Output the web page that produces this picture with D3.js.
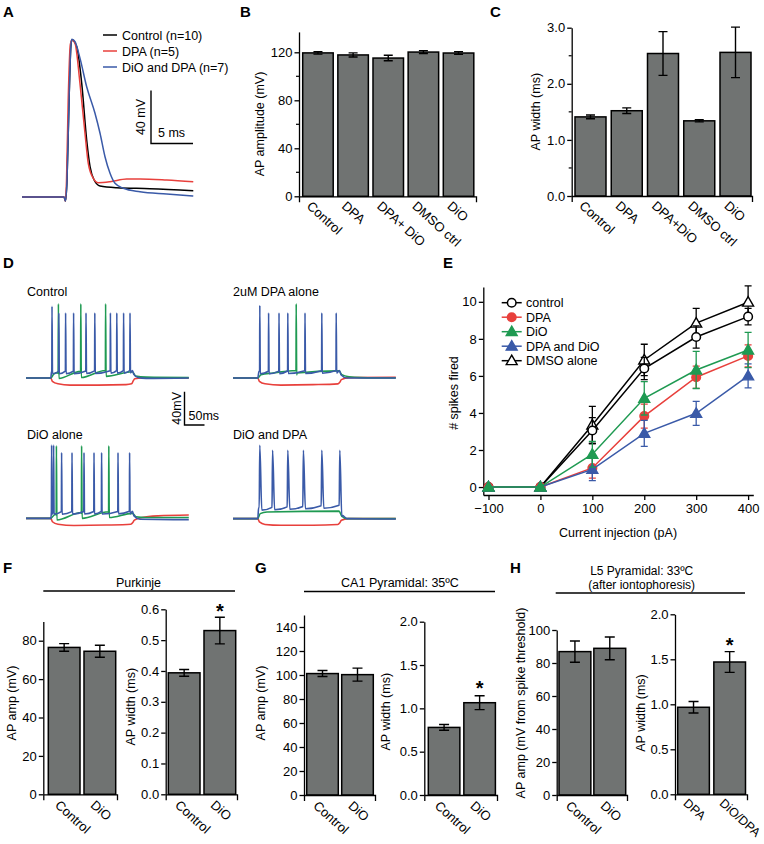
<!DOCTYPE html>
<html><head><meta charset="utf-8">
<script src="https://cdn.jsdelivr.net/npm/d3@7"></script>
<style>
body{margin:0;background:#fff}
svg{font-family:'Liberation Sans',Arial,sans-serif}
.axis path,.axis line{stroke:#000;stroke-width:1.3}
.axis text{font-size:13px;fill:#000;font-family:'Liberation Sans',Arial,sans-serif}
</style></head><body>
<svg id="fig" width="764" height="844"></svg>
<script>
// ---------------- DATA ----------------
// Panel A: averaged AP traces [ms, mV]
const aLegend = ["Control (n=10)", "DPA (n=5)", "DiO and DPA (n=7)"];
const aControl = [[0,-70],[5.0,-70],[5.18,-73],[5.36,-57],[5.6,3],[5.83,45],[5.95,48.5],[6.51,43.4],[7.11,15.8],[7.7,-27],[8.1,-47],[8.57,-57],[9.29,-61.7],[11.27,-63],[15.24,-63.7],[20.39,-65.2]];
const aDPA = [[0,-70],[5.0,-70],[5.18,-73],[5.3,-57],[5.5,3],[5.75,45],[5.95,48.5],[6.31,46],[6.9,15.8],[7.5,-22],[7.89,-44.6],[8.49,-55.9],[9.08,-59.2],[10.48,-58.5],[12.46,-56.4],[14.05,-56.4],[17.23,-57.2],[20.39,-58.5]];
const aDiODPA = [[0,-70],[5.0,-70],[5.18,-73],[5.36,-57],[5.6,3],[5.83,45],[5.95,49],[6.31,47.2],[6.9,34.8],[7.7,13.2],[8.69,-6.8],[9.29,-21.9],[9.88,-39.6],[10.48,-52.1],[11.07,-59.7],[12.06,-63.4],[14.05,-66],[17.23,-67.7],[20.39,-69.2]];

// Panel B / C
const bCats = ["Control","DPA","DPA+ DiO","DMSO ctrl","DiO"];
const bAmp = [119.5, 117.8, 115.2, 120.2, 119.4];
const bAmpErr = [1.0, 1.7, 2.3, 1.2, 1.1];
const cCats = ["Control","DPA","DPA+DiO","DMSO ctrl","DiO"];
const cWidth = [1.41, 1.52, 2.54, 1.34, 2.56];
const cWidthErr = [0.033, 0.05, 0.39, 0.018, 0.45];

// Panel D: subthreshold envelopes [ms, mV] and spikes [ms, peak mV]
const dTitles = ["Control","2uM DPA alone","DiO alone","DiO and DPA"];
const dCtrlBlueEnv = [[0,-70],[62,-70],[64,-62],[266,-61],[270,-66],[280,-69.5],[300,-70.5],[407,-70]];
const dCtrlBlueSpk = [[65,16],[82,8],[99,8],[119,8],[150,8],[172,8],[211,8],[227,8],[244,8],[260,8]];
const dCtrlGreenEnv = [[0,-70],[62,-70],[70,-65],[80,-63.5],[82,-67.5],[136,-62],[138,-66.5],[198,-61],[200,-65],[266,-62.5],[274,-67.5],[300,-69],[407,-69.5]];
const dCtrlGreenSpk = [[81,19],[137,19],[199,19]];
const dCtrlRedEnv = [[0,-70],[62,-70],[66,-74],[80,-77],[110,-78.5],[180,-78.5],[250,-78],[264,-77],[268,-73.5],[272,-71],[290,-70],[407,-70]];

const dDpaBlueEnv = [[0,-70],[62,-70],[65,-62],[266,-61],[270,-66],[285,-70],[407,-70]];
const dDpaBlueSpk = [[67,17],[89,8],[115,8],[137,8],[180,8],[222,8],[258,8]];
const dDpaGreenEnv = [[0,-70],[62,-70],[70,-66],[100,-64],[157,-61],[160,-64],[265,-61.5],[272,-66],[290,-68.5],[320,-69.5],[407,-70]];
const dDpaGreenSpk = [[158,19]];
const dDpaRedEnv = [[0,-70],[62,-70],[66,-74],[80,-77],[120,-78.5],[200,-78],[262,-77],[267,-75],[271,-72],[290,-69.5],[407,-69.3]];

const dDioBlueEnv = [[0,-70],[62,-70],[63.5,-62],[266,-61.5],[270,-67],[285,-71],[407,-71.5]];
const dDioBlueSpk = [[64,18],[69,18],[89,9],[115,9],[145,9],[170,9],[189,9],[230,9],[259,9]];
const dDioGreenEnv = [[0,-70],[62,-70],[70,-66],[75,-65],[77,-69],[138,-63],[140,-67],[206,-62],[208,-66],[266,-64],[275,-68],[300,-69],[407,-69]];
const dDioGreenSpk = [[76,17],[139,17],[207,17]];
const dDioRedEnv = [[0,-70],[62,-70],[66,-74],[80,-77],[120,-78.5],[200,-78],[262,-77],[267,-75],[271,-72],[290,-69],[330,-67],[407,-66]];

const dBothBlueEnv = [[0,-70],[62,-70],[64,-57],[266,-54],[273,-66],[285,-70],[407,-70.5]];
const dBothBlueSpk = [[67,18],[99,12],[137,12],[176,12],[222,12],[267,12]];
const dBothGreenEnv = [[0,-70],[62,-70],[68,-64],[85,-62],[265,-61],[272,-67],[285,-70],[407,-70]];
const dBothGreenSpk = [];
const dBothRedEnv = [[0,-70],[62,-70],[66,-74],[80,-77],[120,-78],[200,-78],[262,-77],[267,-75],[271,-72],[288,-70],[407,-70]];

// Panel E
const eCurrents = [-100, 0, 100, 200, 300, 400];
const eSeriesNames = ["control","DPA","DiO","DPA and DiO","DMSO alone"];
const eControl = [0, 0, 3.05, 6.4, 8.1, 9.2];
const eControlErr = [0, 0, 0.7, 0.6, 0.6, 0.45];
const eDPA = [0, 0, 1.03, 3.83, 5.93, 7.08];
const eDPAErr = [0, 0, 0.55, 0.65, 0.6, 0.6];
const eDiO = [0, 0, 1.77, 4.79, 6.32, 7.4];
const eDiOErr = [0, 0, 0.7, 0.9, 1.0, 0.95];
const eDPADiO = [0, 0, 0.95, 2.9, 3.98, 6.0];
const eDPADiOErr = [0, 0, 0.6, 0.7, 0.65, 0.65];
const eDMSO = [0, 0, 3.35, 6.86, 8.85, 9.98];
const eDMSOErr = [0, 0, 1.0, 0.85, 0.8, 0.88];

// Panel F
const fTitle = "Purkinje";
const fCats = ["Control","DiO"];
const fAmp = [76.5, 74.5];
const fAmpErr = [2.0, 3.1];
const fWidth = [0.394, 0.531];
const fWidthErr = [0.011, 0.043];
// Panel G
const gTitle = "CA1 Pyramidal: 35ºC";
const gCats = ["Control","DiO"];
const gAmp = [101.2, 100.3];
const gAmpErr = [2.5, 5.4];
const gWidth = [0.78, 1.065];
const gWidthErr = [0.033, 0.08];
// Panel H
const hTitle = ["L5 Pyramidal: 33ºC", "(after iontophoresis)"];
const hAmpCats = ["Control","DiO"];
const hAmp = [86.9, 88.9];
const hAmpErr = [6.4, 6.9];
const hWidthCats = ["DPA","DiO/DPA"];
const hWidth = [0.967, 1.47];
const hWidthErr = [0.064, 0.115];

// ---------------- DRAWING ----------------
const svg = d3.select('#fig');
const BAR = '#707372';
const RED = '#e8403c', GREEN = '#1f9a52', BLUE = '#3a5aa8';
const FONT = "'Liberation Sans', Arial, sans-serif";

function text(x, y, s, size, opts = {}) {
  const t = svg.append('text').attr('x', x).attr('y', y).text(s)
    .attr('font-size', size).attr('font-family', FONT).attr('fill', '#000');
  if (opts.anchor) t.attr('text-anchor', opts.anchor);
  if (opts.bold) t.attr('font-weight', 'bold');
  if (opts.rot !== undefined) t.attr('transform', `rotate(${opts.rot},${x},${y})`);
  return t;
}

// panel letters
[["A",3,17],["B",240,17],["C",490,17],["D",3,268],["E",443,268],["F",3,573],["G",255,573],["H",510,573]]
  .forEach(([l,x,y]) => text(x, y, l, 15, {bold: true}));

// ---- Panel A ----
{
  const ax = d3.scaleLinear().domain([0, 20.4]).range([22, 22 + 20.4 * 8.4]);
  const ay = d3.scaleLinear().domain([-70, 48.5]).range([197, 40]);
  const line = d3.line().x(d => ax(d[0])).y(d => ay(d[1])).curve(d3.curveMonotoneX);
  [[aControl, '#000'], [aDPA, RED], [aDiODPA, BLUE]].forEach(([d, c]) =>
    svg.append('path').attr('d', line(d)).attr('fill', 'none').attr('stroke', c).attr('stroke-width', 1.5));
  [['#000', 35], [RED, 51], [BLUE, 67]].forEach(([c, y], i) => {
    svg.append('line').attr('x1', 103).attr('x2', 117).attr('y1', y).attr('y2', y).attr('stroke', c).attr('stroke-width', 1.5);
    text(122, y + 4.5, aLegend[i], 12.5);
  });
  const sbx = 151, sby = 143.5;
  const h = ay(-70) - ay(-30), w = ax(5) - ax(0);
  svg.append('path').attr('d', `M${sbx},${sby - h}V${sby}H${sbx + w}`).attr('fill', 'none').attr('stroke', '#000').attr('stroke-width', 1.4);
  text(145, sby - h / 2, "40 mV", 12.5, {anchor: 'middle', rot: -90});
  text(158, 137, "5 ms", 12.5);
}

// ---- bar chart helper ----
function barPanel(o) {
  const g = svg.append('g');
  const x = d3.scaleBand().domain(o.cats).range([o.b0, o.b1]).paddingInner(o.pi).paddingOuter(0);
  const y = d3.scaleLinear().domain(o.yDom).range(o.yRange);
  const bw = x.bandwidth();
  g.selectAll('rect').data(o.cats).join('rect')
    .attr('x', c => x(c)).attr('width', bw)
    .attr('y', (c, i) => y(o.vals[i])).attr('height', (c, i) => y(0) - y(o.vals[i]))
    .attr('fill', BAR).attr('stroke', '#000').attr('stroke-width', 1.5);
  const cap = o.cap || 4.5;
  o.cats.forEach((c, i) => {
    const cx = x(c) + bw / 2, hi = y(o.vals[i] + o.errs[i]), lo = y(o.vals[i] - o.errs[i]);
    g.append('path').attr('d', `M${cx},${lo}V${hi}M${cx - cap},${hi}h${2 * cap}M${cx - cap},${lo}h${2 * cap}`)
      .attr('stroke', '#000').attr('stroke-width', 1.4).attr('fill', 'none');
  });
  g.append('g').attr('class', 'axis').attr('transform', `translate(${o.ax},0)`)
    .call(d3.axisLeft(y).tickValues(o.ticks).tickFormat(o.fmt).tickSize(4.5).tickPadding(2).tickSizeOuter(0));
  (o.minor || []).forEach(v => g.append('line').attr('x1', o.ax - 3).attr('x2', o.ax).attr('y1', y(v)).attr('y2', y(v)).attr('stroke', '#000').attr('stroke-width', 1.2));
  const xl = d3.scaleLinear().range([o.ax, o.xEnd]);
  g.append('g').attr('class', 'axis').attr('transform', `translate(0,${y(0)})`)
    .call(d3.axisBottom(xl).tickValues([]).tickSizeOuter(6));
  o.cats.forEach((c, i) => {
    g.append('text').attr('transform', `translate(${x(c) + bw / 2 + o.ldx},${y(0) + o.ldy}) rotate(42)`)
      .attr('font-size', o.lfs || 13).attr('font-family', FONT).text(c);
  });
  g.append('text').attr('transform', `translate(${o.tx},${o.ty}) rotate(-90)`).attr('text-anchor', 'middle')
    .attr('font-size', 12.5).attr('font-family', FONT).text(o.title);
  if (o.star !== undefined) {
    const i = o.star, c = o.cats[i];
    g.append('text').attr('x', x(c) + bw / 2).attr('y', y(o.vals[i] + o.errs[i]) + (o.starDy || 0))
      .attr('text-anchor', 'middle').attr('font-size', 20).attr('font-weight', 'bold').attr('font-family', FONT).text('*');
  }
  return {x, y};
}

// ---- Panel B ----
barPanel({cats: bCats, vals: bAmp, errs: bAmpErr, b0: 302.7, b1: 473.8, pi: 0.132,
  yDom: [0, 137], yRange: [196.3, 196.3 - 137 * 1.2], ax: 299, xEnd: 476,
  ticks: [0, 40, 80, 120], minor: [20, 60, 100], fmt: d3.format('d'),
  ldx: -12, ldy: 11, title: "AP amplitude (mV)", tx: 264, ty: 124});
// ---- Panel C ----
barPanel({cats: cCats, vals: cWidth, errs: cWidthErr, b0: 575, b1: 751, pi: 0.145,
  yDom: [0, 3.0], yRange: [196, 27.7], ax: 571.7, xEnd: 752,
  ticks: [0, 1, 2, 3], minor: [0.5, 1.5, 2.5], fmt: d3.format('.1f'),
  ldx: -12, ldy: 11, title: "AP width (ms)", tx: 539.5, ty: 111.7});

// ---- Panel D ----
function spikeTrace(env, spikes, rise, fall, ahp) {
  const E = d3.scaleLinear().domain(env.map(d => d[0])).range(env.map(d => d[1]));
  let pts = env.filter(d => spikes.every(([t]) => d[0] < t - rise - 0.05 || d[0] > t + fall + 0.05));
  spikes.forEach(([t, p]) => {
    pts.push([t - rise, E(t - rise)], [t, p], [t + fall, E(t + fall) - ahp]);
  });
  pts.sort((a, b) => a[0] - b[0]);
  return pts;
}
{
  const panels = [
    {x0: 26, base: 378, tx: 27, ty: 296, red: dCtrlRedEnv, green: [dCtrlGreenEnv, dCtrlGreenSpk], blue: [dCtrlBlueEnv, dCtrlBlueSpk], broad: false},
    {x0: 233, base: 378, tx: 233, ty: 296, red: dDpaRedEnv, green: [dDpaGreenEnv, dDpaGreenSpk], blue: [dDpaBlueEnv, dDpaBlueSpk], broad: false},
    {x0: 26, base: 518.4, tx: 27, ty: 438.5, red: dDioRedEnv, green: [dDioGreenEnv, dDioGreenSpk], blue: [dDioBlueEnv, dDioBlueSpk], broad: false},
    {x0: 233, base: 518.6, tx: 233, ty: 438.5, red: dBothRedEnv, green: [dBothGreenEnv, dBothGreenSpk], blue: [dBothBlueEnv, dBothBlueSpk], broad: true}
  ];
  panels.forEach((p, i) => {
    const x = d3.scaleLinear().domain([0, 407]).range([p.x0, p.x0 + 407 * 0.4]);
    const y = d3.scaleLinear().domain([-70, 30]).range([p.base, p.base - 100 * 0.8333]);
    const line = d3.line().x(d => x(d[0])).y(d => y(d[1])).curve(d3.curveMonotoneX);
    const [r, f, a] = p.broad ? [1.5, 5, 3] : [0.5, 1.2, 3];
    svg.append('path').attr('d', line(p.red)).attr('fill', 'none').attr('stroke', RED).attr('stroke-width', 1.6);
    svg.append('path').attr('d', line(spikeTrace(p.green[0], p.green[1], 0.5, 1.2, 3))).attr('fill', 'none').attr('stroke', GREEN).attr('stroke-width', 1.6);
    svg.append('path').attr('d', line(spikeTrace(p.blue[0], p.blue[1], r, f, a))).attr('fill', 'none').attr('stroke', BLUE).attr('stroke-width', 1.6);
    text(p.tx, p.ty, dTitles[i], 12.5);
  });
  const sbx = 184.5, sby = 425;
  svg.append('path').attr('d', `M${sbx},${sby - 40 * 0.8333}V${sby}H${sbx + 50 * 0.4}`).attr('fill', 'none').attr('stroke', '#000').attr('stroke-width', 1.4);
  text(181, sby - 20 * 0.8333, "40mV", 12.5, {anchor: 'middle', rot: -90});
  text(188.5, 420, "50ms", 12.5);
}

// ---- Panel E ----
{
  const ex = d3.scaleLinear().domain([-110, 410]).range([483.3, 753.3]);
  const ey = d3.scaleLinear().domain([-0.43, 10.8]).range([495, 287]);
  const g = svg.append('g');
  g.append('g').attr('class', 'axis').attr('transform', 'translate(0,495)')
    .call(d3.axisBottom(ex).tickValues(eCurrents).tickSize(5).tickPadding(4).tickSizeOuter(0));
  g.append('g').attr('class', 'axis').attr('transform', 'translate(483.3,0)')
    .call(d3.axisLeft(ey).tickValues([0, 2, 4, 6, 8, 10]).tickSize(4.5).tickPadding(2).tickSizeOuter(0));
  text(618, 536.5, "Current injection (pA)", 12.5, {anchor: 'middle'});
  text(458, 393, "# spikes fired", 12.5, {anchor: 'middle', rot: -90});

  const series = [
    {v: eDMSO, e: eDMSOErr, c: '#000', m: 'tri', fill: '#fff', leg: 4},
    {v: eControl, e: eControlErr, c: '#000', m: 'circ', fill: '#fff', leg: 0},
    {v: eDPA, e: eDPAErr, c: RED, m: 'circ', fill: RED, leg: 1},
    {v: eDPADiO, e: eDPADiOErr, c: BLUE, m: 'tri', fill: BLUE, leg: 3},
    {v: eDiO, e: eDiOErr, c: GREEN, m: 'tri', fill: GREEN, leg: 2}
  ];
  const line = d3.line().x((d, i) => ex(eCurrents[i])).y(d => ey(d));
  const tri = d3.symbol().type(d3.symbolTriangle).size(52);
  function marker(sel, s, cx, cy) {
    if (s.m === 'circ') sel.append('circle').attr('cx', cx).attr('cy', cy).attr('r', 4.3).attr('fill', s.fill).attr('stroke', s.c).attr('stroke-width', 1.5);
    else sel.append('path').attr('d', tri()).attr('transform', `translate(${cx},${cy + 0.8})`).attr('fill', s.fill).attr('stroke', s.c).attr('stroke-width', 1.4);
  }
  series.forEach(s => {
    g.append('path').attr('d', line(s.v)).attr('fill', 'none').attr('stroke', s.c).attr('stroke-width', 1.5);
    s.v.forEach((v, i) => {
      if (s.e[i] > 0) {
        const cx = ex(eCurrents[i]), hi = ey(v + s.e[i]), lo = ey(v - s.e[i]);
        g.append('path').attr('d', `M${cx},${lo}V${hi}M${cx - 3.5},${hi}h7M${cx - 3.5},${lo}h7`).attr('stroke', s.c).attr('stroke-width', 1.3).attr('fill', 'none');
      }
    });
    s.v.forEach((v, i) => marker(g, s, ex(eCurrents[i]), ey(v)));
  });
  const order = [1, 2, 4, 3, 0];
  order.forEach((si, k) => {
    const s = series[si], yy = 302.7 + k * 14.5;
    g.append('line').attr('x1', 501.7).attr('x2', 521.7).attr('y1', yy).attr('y2', yy).attr('stroke', s.c).attr('stroke-width', 1.5);
    marker(g, s, 511.7, yy);
    text(526, yy + 4.5, eSeriesNames[s.leg], 12.5);
  });
}

// ---- Panel F ----
text(138.5, 587, fTitle, 12.5, {anchor: 'middle'});
svg.append('line').attr('x1', 43.3).attr('x2', 235).attr('y1', 591).attr('y2', 591).attr('stroke', '#000').attr('stroke-width', 1.3);
barPanel({cats: fCats, vals: fAmp, errs: fAmpErr, b0: 48.3, b1: 115.7, pi: 0.112,
  yDom: [0, 90], yRange: [794.3, 794.3 - 90 * 1.92], ax: 43.3, xEnd: 117,
  ticks: [0, 20, 40, 60, 80], fmt: d3.format('d'), cap: 5,
  ldx: -10, ldy: 12, title: "AP amp (mV)", tx: 16, ty: 703});
barPanel({cats: fCats, vals: fWidth, errs: fWidthErr, b0: 168.3, b1: 235.7, pi: 0.112,
  yDom: [0, 0.6], yRange: [794.3, 609.3], ax: 165.7, xEnd: 237,
  ticks: [0, 0.1, 0.2, 0.3, 0.4, 0.5, 0.6], fmt: d3.format('.1f'), cap: 5,
  ldx: -10, ldy: 12, title: "AP width (ms)", tx: 134.5, ty: 706.7, star: 1, starDy: 1});

// ---- Panel G ----
text(400, 587, gTitle, 12.5, {anchor: 'middle'});
svg.append('line').attr('x1', 304).attr('x2', 495).attr('y1', 591.5).attr('y2', 591.5).attr('stroke', '#000').attr('stroke-width', 1.3);
barPanel({cats: gCats, vals: gAmp, errs: gAmpErr, b0: 306.7, b1: 373.3, pi: 0.097,
  yDom: [0, 150], yRange: [795, 615], ax: 304, xEnd: 375,
  ticks: [0, 20, 40, 60, 80, 100, 120, 140], fmt: d3.format('d'), cap: 5,
  ldx: -10, ldy: 12, title: "AP amp (mV)", tx: 264.5, ty: 703});
barPanel({cats: gCats, vals: gWidth, errs: gWidthErr, b0: 428.3, b1: 495.4, pi: 0.112,
  yDom: [0, 2.0], yRange: [795, 621.7], ax: 424.3, xEnd: 497,
  ticks: [0, 0.5, 1.0, 1.5, 2.0], fmt: d3.format('.1f'), cap: 5,
  ldx: -10, ldy: 12, title: "AP width (ms)", tx: 389.5, ty: 711.7, star: 1, starDy: -1});

// ---- Panel H ----
text(641.7, 575, hTitle[0], 12, {anchor: 'middle'});
text(641.7, 589, hTitle[1], 12, {anchor: 'middle'});
svg.append('line').attr('x1', 555.7).attr('x2', 745).attr('y1', 593).attr('y2', 593).attr('stroke', '#000').attr('stroke-width', 1.3);
barPanel({cats: hAmpCats, vals: hAmp, errs: hAmpErr, b0: 559, b1: 625.7, pi: 0.086,
  yDom: [0, 100], yRange: [795, 630], ax: 556.7, xEnd: 627,
  ticks: [0, 20, 40, 60, 80, 100], fmt: d3.format('d'), cap: 5,
  ldx: -10, ldy: 12, title: "AP amp (mV from spike threshold)", tx: 524.5, ty: 703});
barPanel({cats: hWidthCats, vals: hWidth, errs: hWidthErr, b0: 677.7, b1: 745.5, pi: 0.124,
  yDom: [0, 2.0], yRange: [794.3, 614.3], ax: 675, xEnd: 747,
  ticks: [0, 0.5, 1.0, 1.5, 2.0], fmt: d3.format('.1f'), cap: 5, lfs: 12.5,
  ldx: -11, ldy: 10, title: "AP width (ms)", tx: 644.5, ty: 713, star: 1, starDy: 0});
</script>
</body></html>
